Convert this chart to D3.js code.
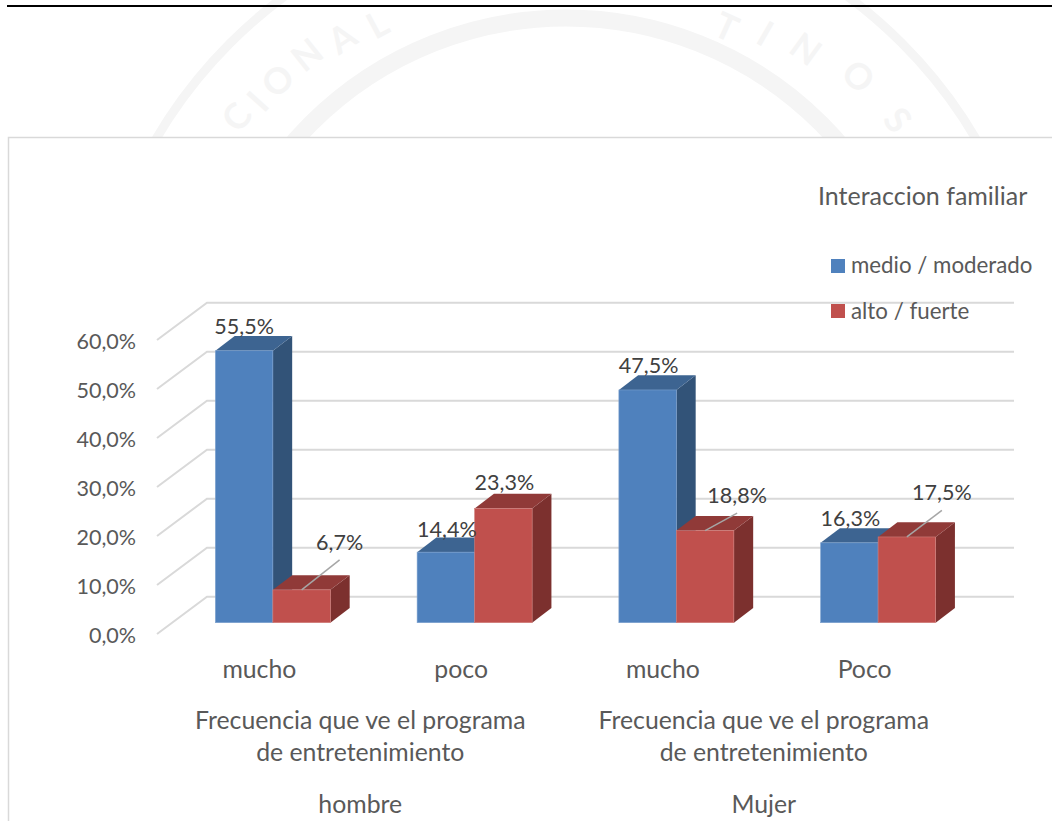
<!DOCTYPE html>
<html><head><meta charset="utf-8">
<script src="https://cdn.jsdelivr.net/npm/d3@7/dist/d3.min.js"></script>
<style>html,body{margin:0;padding:0;background:#fff}svg{display:block}text{font-family:Lato,sans-serif}</style>
</head><body><div id="c"></div>
<script>
const categories = ["mucho","poco","mucho ","Poco"];
const groups = ["hombre","Mujer"];
const groupTitle = ["Frecuencia que ve el programa","de entretenimiento"];
const seriesNames = ["medio / moderado","alto / fuerte"];
const medio = [55.5,14.4,47.5,16.3];
const alto = [6.7,23.3,18.8,17.5];
const yTicks = [0,10,20,30,40,50,60];
const legendTitle = "Interaccion familiar";

const W=1052,H=821;
const svg=d3.select("#c").append("svg").attr("width",W).attr("height",H);
const fsTick=21.5, fsCat=24.8, fsData=21.5, fsLeg=22.3, fsTitle=25, grey="#595959", dark="#404040";
const colors=[{front:"#4f81bd",top:"#3d6491",side:"#325378",edge:"#7ea2cf"},
              {front:"#c0504d",top:"#903a38",side:"#7c302e",edge:"#d07e7b"}];

// watermark
const wm=svg.append("g");
const cx=566,cy=379,wmc="#f5f5f5";
wm.append("circle").attr("cx",cx).attr("cy",cy).attr("r",475).attr("fill","none").attr("stroke",wmc).attr("stroke-width",9);
wm.append("circle").attr("cx",cx).attr("cy",cy).attr("r",361).attr("fill","none").attr("stroke",wmc).attr("stroke-width",17);
[["C",-51.5,408],["I",-48,402],["O",-44,402],["N",-38.6,402],["A",-33.3,395],["L",-28,389],["T",24.5,374],["I",30,386],["N",36,395],["O",44,408],["S",52,408]].forEach(([t,a,r])=>{
  wm.append("text").attr("transform",`translate(${cx},${cy}) rotate(${a}) translate(0,${-r})`)
    .attr("text-anchor","middle").attr("font-size",36).attr("font-weight",700).attr("fill",wmc).text(t);
});
// page rule and chart box
svg.append("rect").attr("x",7).attr("y",5).attr("width",W-7).attr("height",2).attr("fill","#000");
svg.append("rect").attr("x",8.5).attr("y",137.5).attr("width",W+20).attr("height",H).attr("fill","#fff").attr("stroke","#d9d9d9").attr("stroke-width",1.5);

// scales: front plane of the 3D box
const depthX=50, depthY=37.3;
const x=d3.scaleBand().domain(categories).range([157,964]).paddingInner(0).paddingOuter(0);
const y=d3.scaleLinear().domain([0,60]).range([634,340]);
const inner=d3.scaleBand().domain([0,1]).range([0,115]);
const barFrontX=15, barFrontY=11.3, barDX=19.3, barDY=14.7;

// walls / gridlines
const grid=svg.append("g").attr("stroke","#d9d9d9").attr("stroke-width",2).attr("fill","none");
yTicks.forEach(t=>{
  grid.append("polyline").attr("points",[[157,y(t)],[157+depthX,y(t)-depthY],[964+depthX,y(t)-depthY]].map(p=>p.join(",")).join(" "));
});

// axes
const yAxis=d3.axisLeft(y).tickValues(yTicks).tickFormat(d=>d3.format(".1f")(d).replace(".",",")+"%").tickSize(0).tickPadding(21);
const ya=svg.append("g").attr("transform","translate(157,1.5)").call(yAxis);
const xAxis=d3.axisBottom(x).tickFormat(d=>d.trim()).tickSize(0).tickPadding(0);
const xa=svg.append("g").attr("transform","translate(1.5,660)").call(xAxis);
ya.select(".domain").remove(); xa.select(".domain").remove();
ya.selectAll("text").attr("font-size",fsTick).attr("font-family","Lato,sans-serif").attr("fill",grey);
xa.selectAll("text").attr("font-size",fsCat).attr("font-family","Lato,sans-serif").attr("fill",grey);

// group labels
const groupCenter=i=>(x(categories[i*2])+x(categories[i*2+1])+x.bandwidth())/2+1.5;
groups.forEach((g,i)=>{
  const c=svg.append("g").attr("text-anchor","middle").attr("font-size",fsCat).attr("fill",grey);
  groupTitle.forEach((l,j)=>c.append("text").attr("x",groupCenter(i)).attr("y",729+j*32).text(l));
  c.append("text").attr("x",groupCenter(i)).attr("y",813).text(g);
});

// bars
const base=y(0)-barFrontY;
const h=v=>y(0)-y(v);
const face=(sel,pts,fill)=>sel.append("polygon").attr("points",pts.map(p=>p.join(",")).join(" ")).attr("fill",fill);
categories.forEach((cat,i)=>{
  [medio[i],alto[i]].forEach((v,s)=>{
    const g=svg.append("g"), c=colors[s];
    const x0=x(cat)+x.bandwidth()/2+barFrontX-inner.bandwidth()+inner(s), x1=x0+inner.bandwidth(), yt=base-h(v);
    face(g,[[x1,base],[x1+barDX,base-barDY],[x1+barDX,yt-barDY],[x1,yt]],c.side);
    face(g,[[x0,yt],[x0+barDX,yt-barDY],[x1+barDX,yt-barDY],[x1,yt]],c.top);
    g.append("rect").attr("x",x0).attr("y",yt).attr("width",x1-x0).attr("height",base-yt).attr("fill",c.front).attr("stroke",c.edge).attr("stroke-width",0.6);
  });
});

// data labels: offsets relative to the bar's front-top centre
const labelOffsets=[
 [[0,-17],[38,-40,true]],[[1,-15],[1,-18.5]],
 [[1,-17],[32,-27.5,true]],[[1,-17],[35,-36.5,true]]];
const lab=svg.append("g").attr("text-anchor","middle").attr("font-size",fsData).attr("fill",dark);
categories.forEach((cat,i)=>{
  [medio[i],alto[i]].forEach((v,s)=>{
    const cxb=x(cat)+x.bandwidth()/2+barFrontX-inner.bandwidth()+inner(s)+inner.bandwidth()/2, yt=base-h(v);
    const o=labelOffsets[i][s];
    if(o[2]) svg.append("line").attr("x1",cxb).attr("y1",yt).attr("x2",cxb+o[0]).attr("y2",yt+o[1]+10).attr("stroke","#a6a6a6").attr("stroke-width",1.5);
    lab.append("text").attr("x",cxb+o[0]).attr("y",yt+o[1]).text(d3.format(".1f")(v).replace(".",",")+"%");
  });
});
lab.raise();

// legend
const leg=svg.append("g").attr("fill",grey);
leg.append("text").attr("x",818).attr("y",205).attr("font-size",fsTitle).text(legendTitle);
seriesNames.forEach((n,i)=>{
  leg.append("rect").attr("x",831).attr("y",259+i*45).attr("width",14).attr("height",14).attr("fill",colors[i].front);
  leg.append("text").attr("x",851).attr("y",273+i*46).attr("font-size",fsLeg).text(n);
});
</script></body></html>
